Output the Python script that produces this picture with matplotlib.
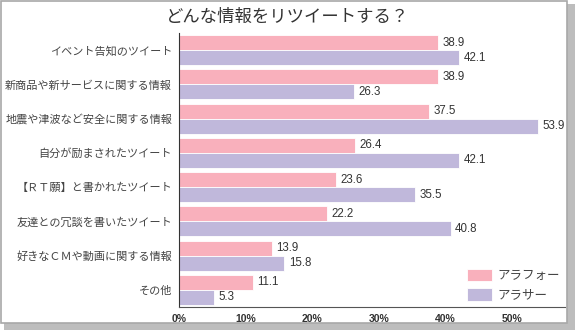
import matplotlib.pyplot as plt
import numpy as np
from matplotlib.patches import Rectangle

plt.rcParams['font.family'] = ['Noto Sans CJK JP', 'DejaVu Sans']

categories = [
    "イベント告知のツイート",
    "新商品や新サービスに関する情報",
    "地震や津波など安全に関する情報",
    "自分が励まされたツイート",
    "【ＲＴ願】と書かれたツイート",
    "友達との冗談を書いたツイート",
    "好きなＣＭや動画に関する情報",
    "その他",
]
arafo = [38.9, 38.9, 37.5, 26.4, 23.6, 22.2, 13.9, 11.1]
arasa = [42.1, 26.3, 53.9, 42.1, 35.5, 40.8, 15.8, 5.3]
series_names = ["アラフォー", "アラサー"]
xticks = [0, 10, 20, 30, 40, 50]

pink = "#F9B0BC"
purple = "#C0B8DB"
text_c = "#333333"

fig = plt.figure(figsize=(5.75, 3.3), dpi=100)

# frame with shadow
fig.patches.append(Rectangle((4 / 575, 0), 571 / 575, 326 / 330, transform=fig.transFigure,
                             facecolor="#bdbdbd", edgecolor="none", zorder=-2))
fig.patches.append(Rectangle((0.5 / 575, 7 / 330), 566 / 575, 322 / 330, transform=fig.transFigure,
                             facecolor="white", edgecolor="#a8a8a8", linewidth=1.2, zorder=-1))

ax = fig.add_axes([179 / 575, 23 / 330, 386 / 575, 274 / 330])
ax.patch.set_alpha(0)

y = np.arange(len(categories))
h = 0.44
b1 = ax.barh(y - h / 2, arafo, height=h, color=pink, edgecolor="white", linewidth=0.6, label=series_names[0])
b2 = ax.barh(y + h / 2, arasa, height=h, color=purple, edgecolor="white", linewidth=0.6, label=series_names[1])

for bars, vals in [(b1, arafo), (b2, arasa)]:
    for bar, v in zip(bars, vals):
        ax.text(v + 0.7, bar.get_y() + bar.get_height() / 2, f"{v:.1f}",
                va="center", ha="left", fontsize=8.3, color=text_c, family=["Liberation Sans", "DejaVu Sans"])

ax.set_ylim(len(categories) - 0.5, -0.5)
ax.set_xlim(0, 58)
ax.set_yticks(y)
ax.set_yticklabels(categories, fontsize=8, color="#444444")
ax.set_xticks(xticks)
ax.set_xticklabels([f"{t}%" for t in xticks], fontsize=7.5, color=text_c, fontweight="bold",
                   family=["Liberation Sans", "DejaVu Sans"])
ax.tick_params(length=0, pad=5)
ax.tick_params(axis="x", pad=5)
for s in ["top", "right"]:
    ax.spines[s].set_visible(False)
ax.spines["left"].set_color("#333333")
ax.spines["bottom"].set_color("#555555")

ax.legend(loc="lower right", bbox_to_anchor=(0.988, 0.02), borderaxespad=0, borderpad=0,
          frameon=False, fontsize=9, handlelength=2.0, handleheight=1.2, labelspacing=0.45,
          handletextpad=0.45, labelcolor="#444444")

fig.text(0.5, 1 - 17 / 330, "どんな情報をリツイートする？", ha="center", va="center",
         fontsize=12.5, color="#333333")

fig.savefig("out.png", dpi=100)
